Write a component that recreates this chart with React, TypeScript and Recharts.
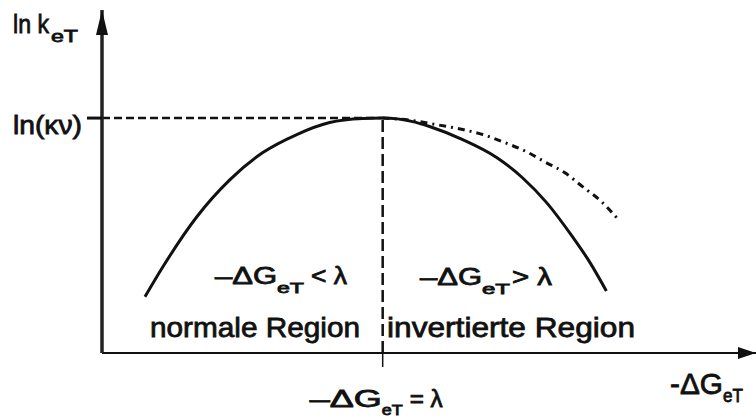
import { LineChart, Line, XAxis, YAxis, ReferenceLine } from 'recharts';

// Marcus picture: ln k_eT over -ΔG_eT, both in reduced units (λ = 1, ln(κν) = 1)
const LAMBDA = 1;
const LN_KV = 1;
const X_MAX = 2.33;
const Y_MAX = 1.46;

// classical Marcus parabola
const marcusDG = [0.153, 0.217, 0.338, 0.456, 0.573, 0.694, 0.811, 0.929, 1.0, 1.107, 1.167, 1.285, 1.406, 1.498, 1.584, 1.676, 1.737, 1.797];
const marcusLnK = [0.239, 0.367, 0.58, 0.738, 0.853, 0.93, 0.981, 0.998, 1.0, 0.985, 0.964, 0.908, 0.832, 0.746, 0.64, 0.495, 0.388, 0.264];

// weaker drop-off in the inverted region (dash-dot)
const observedDG = [1.0, 1.096, 1.192, 1.285, 1.356, 1.434, 1.512, 1.577, 1.648, 1.712, 1.779, 1.84];
const observedLnK = [1.0, 0.991, 0.972, 0.951, 0.93, 0.896, 0.857, 0.814, 0.768, 0.708, 0.645, 0.567];

const marcusData = marcusDG.map((x, i) => ({ x, y: marcusLnK[i] }));
const observedData = observedDG.map((x, i) => ({ x, y: observedLnK[i] }));

const FONT = '"Liberation Sans", Arial, Helvetica, sans-serif';
const INK = '#111';

// plot box (chart margins below)
const LEFT = 101;
const TOP = 10;
const BOTTOM = 65;
const W = 756;
const H = 419;
const AXIS_X = LEFT + 1;
const AXIS_Y = H - BOTTOM - 1;

const Txt = ({ x, y, size, len, children }: any) => (
    <text
        x={x}
        y={y}
        fontSize={size}
        textLength={len}
        lengthAdjust="spacingAndGlyphs"
        fontFamily={FONT}
        fill={INK}
        stroke={INK}
        strokeWidth={0.8}
    >
        {children}
    </text>
);

// "ln(κν)" next to the y tick
const YTick = ({ y }: any) => (
    <Txt x={13} y={y + 16} size={25} len={69}>ln(κν)</Txt>
);

// "−ΔG_eT = λ" under the x tick
const XTick = ({ x }: any) => (
    <g>
        <Txt x={x - 73} y={407} size={23} len={72}>–ΔG</Txt>
        <Txt x={x - 1} y={415} size={15} len={21}>eT</Txt>
        <Txt x={x + 27} y={407} size={23} len={33}>= λ</Txt>
    </g>
);

export default function App() {
    return (
        <div style={{ position: 'absolute', left: 0, top: 0, width: W, height: H, background: '#fff' }}>
            <LineChart width={W} height={H} margin={{ top: TOP, right: 0, bottom: BOTTOM, left: LEFT }}>
                <XAxis
                    type="number"
                    dataKey="x"
                    domain={[0, X_MAX]}
                    allowDataOverflow
                    ticks={[LAMBDA]}
                    tickSize={14}
                    height={1}
                    axisLine={{ stroke: INK, strokeWidth: 2 }}
                    tickLine={{ stroke: INK, strokeWidth: 1.5 }}
                    tick={XTick}
                />
                <YAxis
                    type="number"
                    domain={[0, Y_MAX]}
                    allowDataOverflow
                    ticks={[LN_KV]}
                    tickSize={15}
                    width={1}
                    axisLine={{ stroke: '#222', strokeWidth: 3.5 }}
                    tickLine={{ stroke: INK, strokeWidth: 3 }}
                    tick={YTick}
                />

                <ReferenceLine
                    segment={[{ x: 0, y: LN_KV }, { x: LAMBDA, y: LN_KV }]}
                    stroke={INK}
                    strokeWidth={2.5}
                    strokeDasharray="8 4"
                    ifOverflow="visible"
                />
                <ReferenceLine
                    segment={[{ x: LAMBDA, y: 0 }, { x: LAMBDA, y: LN_KV }]}
                    stroke={INK}
                    strokeWidth={2.5}
                    strokeDasharray="12 5"
                    ifOverflow="visible"
                />

                <Line
                    data={observedData}
                    dataKey="y"
                    type="monotone"
                    stroke={INK}
                    strokeWidth={3}
                    strokeDasharray="7 5 2 5"
                    dot={false}
                    isAnimationActive={false}
                />
                <Line
                    data={marcusData}
                    dataKey="y"
                    type="monotone"
                    stroke={INK}
                    strokeWidth={3}
                    dot={false}
                    isAnimationActive={false}
                />

                <g>
                    <Txt x={13} y={33} size={26} len={36}>ln k</Txt>
                    <Txt x={51} y={42} size={16} len={27}>eT</Txt>

                    <Txt x={215} y={284} size={23} len={62}>–ΔG</Txt>
                    <Txt x={277} y={293} size={15} len={27}>eT</Txt>
                    <Txt x={311} y={284} size={23} len={36}>&lt; λ</Txt>

                    <Txt x={420} y={285} size={23} len={62}>–ΔG</Txt>
                    <Txt x={482} y={294} size={15} len={28}>eT</Txt>
                    <Txt x={512} y={285} size={23} len={40}>&gt; λ</Txt>

                    <Txt x={150} y={337} size={28} len={210}>normale Region</Txt>
                    <Txt x={387} y={337} size={28} len={248}>invertierte Region</Txt>

                    <Txt x={670} y={394} size={30} len={53}>-ΔG</Txt>
                    <Txt x={723} y={402} size={19} len={20}>eT</Txt>
                </g>
            </LineChart>

            {/* axis arrow heads, drawn above the chart */}
            <svg
                width={W}
                height={H}
                viewBox={`0 0 ${W} ${H}`}
                style={{ position: 'absolute', left: 0, top: 0, zIndex: 1, pointerEvents: 'none' }}
            >
                <polygon points={`${AXIS_X},${TOP} ${AXIS_X - 6},${TOP + 25} ${AXIS_X + 6},${TOP + 25}`} fill={INK} />
                <polygon points={`${W},${AXIS_Y} ${W - 18},${AXIS_Y - 6} ${W - 18},${AXIS_Y + 6}`} fill={INK} />
            </svg>
        </div>
    );
}
